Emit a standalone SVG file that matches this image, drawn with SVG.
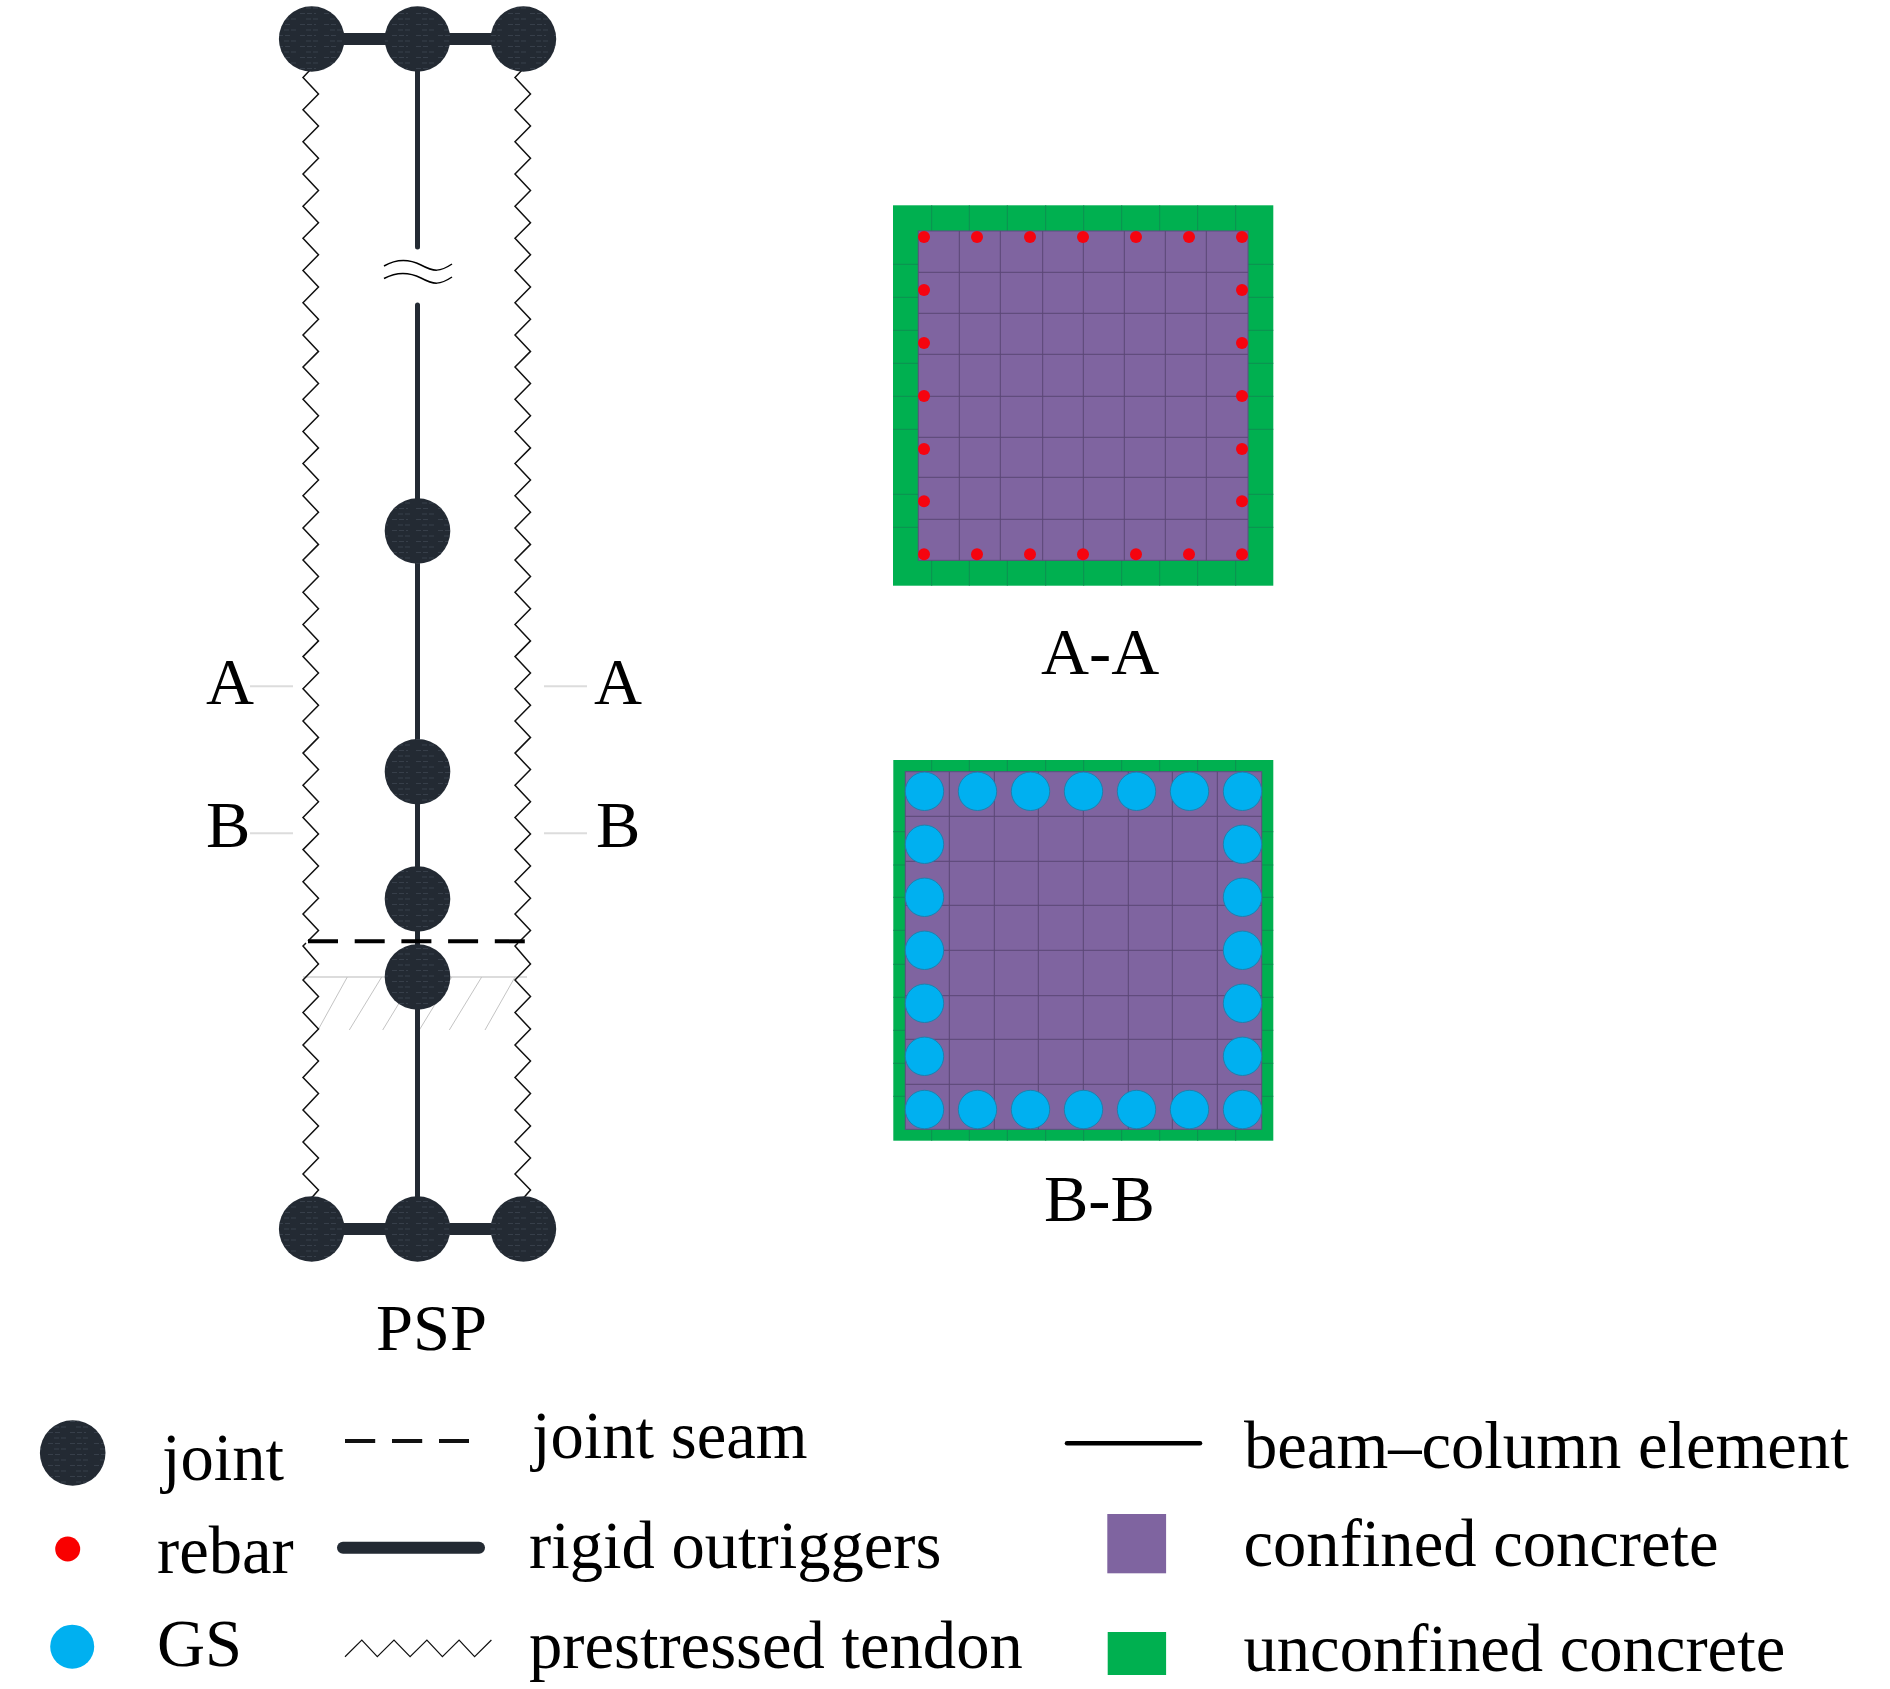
<svg xmlns="http://www.w3.org/2000/svg" xmlns:xlink="http://www.w3.org/1999/xlink" width="1890" height="1689" viewBox="0 0 1890 1689">
<style>
text{font-family:"Liberation Serif","Times New Roman",serif;fill:#000;font-size:66.5px}
.leg{font-size:66.6px}
.joint{fill:url(#jt)}
.outrig{stroke:#232a33;stroke-width:12;fill:none}
.column{stroke:#232a33;stroke-width:5;fill:none;stroke-linecap:round}
.zig{stroke:#111;stroke-width:1.5;fill:none}
.wave{stroke:#000;stroke-width:1.5;fill:none}
.cut{stroke:#dcdcdc;stroke-width:2;fill:none}
.hatch{stroke:#c4c4c4;stroke-width:1;fill:none}
.gg{stroke:#0d8f50;stroke-width:1;fill:none}
.pg{stroke:#5a4675;stroke-width:1;fill:none}
.reb{fill:#f5040f}
.gs{fill:#00b0f0;stroke:#1f80ad;stroke-width:1}
.green{fill:#00b050}
.purple{fill:#7f64a0}
</style>
<defs>
<pattern id="jt" width="46" height="11" patternUnits="userSpaceOnUse">
<rect width="46" height="11" fill="#232a33"/>
<path d="M2 2.5H16M24 2.5H40M8 8H20M30 8H44" stroke="#39424d" stroke-width="0.9" stroke-dasharray="5 2"/>
</pattern>
<polyline id="zigUp" points="311,69 303,77.5 318.5,94 303,109.7 318.5,126 303,141.8 318.5,158.3 303,174 318.5,190.5 303,206.2 318.5,222.7 303,238.3 318.5,254.8 303,270.5 318.5,287 303,302.7 318.5,319.2 303,334.9 318.5,351.4 303,367 318.5,383.5 303,399.2 318.5,415.7 303,431.4 318.5,447.9 303,463.5 318.5,480 303,495.7 318.5,512.2 303,527.9 318.5,544.4 303,560 318.5,576.6 303,592.2 318.5,608.7 303,624.4 318.5,640.9 303,656.6 318.5,673.1 303,688.7 318.5,705.3 303,720.9 318.5,737.4 303,753.1 318.5,769.6 303,785.2 318.5,801.8 303,817.4 318.5,834 303,849.6 318.5,866.1 303,881.8 318.5,898.3 303,913.9 318.5,930.5 308,941"/>
<polyline id="zigLow" points="306,943 303,946 318.5,964 303,980 318.5,996.5 303,1012.5 318.5,1029 303,1045 318.5,1061 303,1077.5 318.5,1093.5 303,1110 318.5,1126 303,1142 318.5,1158 303,1174 318.5,1190 311.5,1198"/>
</defs>

<g id="connectors">
<g id="hatching">
<path class="cut" d="M303 977H527"/>
<path class="hatch" d="M347.3 977L318 1030M381.7 977L349.3 1030M415 977L382.7 1030M451.7 977L419.3 1030M481.7 977L449.3 1030M515 977L485 1030"/>
</g>
<g id="tendons" class="zig">
<use href="#zigUp"/><use href="#zigLow"/>
<use href="#zigUp" transform="translate(212,0)"/><use href="#zigLow" transform="translate(212,0)"/>
</g>
<path id="outrigger-top" class="outrig" d="M311.5 39H523"/>
<path id="outrigger-bottom" class="outrig" d="M311.5 1229H523"/>
<path id="column-upper" class="column" d="M417.5 39V247"/>
<path id="column-lower" class="column" d="M417.5 305V1229"/>
<g id="break-mark" class="wave">
<path d="M384 266C398 258 411 260 421 265C434 272 440 272 452 264"/>
<path d="M384 278.5C398 271 411 273 421 278C434 285 440 285 452 277"/>
</g>
<path id="joint-seam" d="M308 941.3H526" stroke="#000" stroke-width="4" stroke-dasharray="30 16.7" fill="none"/>
<path id="cut-A-left" class="cut" d="M250 686.3H293"/>
<path id="cut-A-right" class="cut" d="M544 686.3H587"/>
<path id="cut-B-left" class="cut" d="M250 833.3H293"/>
<path id="cut-B-right" class="cut" d="M544 833.3H587"/>
</g>

<g id="joint-top-left"><circle class="joint" cx="311.7" cy="39" r="32.8"/></g>
<g id="joint-top-mid"><circle class="joint" cx="417.5" cy="39" r="32.8"/></g>
<g id="joint-top-right"><circle class="joint" cx="523.4" cy="39" r="32.8"/></g>
<g id="joint-1"><circle class="joint" cx="417.5" cy="531" r="32.8"/></g>
<g id="joint-2"><circle class="joint" cx="417.5" cy="771.7" r="32.8"/></g>
<g id="joint-3"><circle class="joint" cx="417.5" cy="899" r="32.8"/></g>
<g id="joint-4"><circle class="joint" cx="417.5" cy="977" r="32.8"/></g>
<g id="joint-bot-left"><circle class="joint" cx="311.7" cy="1229" r="32.8"/></g>
<g id="joint-bot-mid"><circle class="joint" cx="417.5" cy="1229" r="32.8"/></g>
<g id="joint-bot-right"><circle class="joint" cx="523.4" cy="1229" r="32.8"/></g>

<g id="labels-column">
<text x="206" y="704">A</text>
<text x="594" y="704">A</text>
<text x="206" y="847">B</text>
<text x="596" y="847">B</text>
<text x="376" y="1349.5">PSP</text>
</g>

<g id="section-A">
<rect class="green" x="893" y="205.3" width="380.3" height="380.4"/>
<path class="gg" d="M931.7 205.3V231M969.3 205.3V231M1007.3 205.3V231M1045.7 205.3V231M1083.7 205.3V231M1121.7 205.3V231M1159.7 205.3V231M1197.7 205.3V231M1235.7 205.3V231M931.7 560.3V585.7M969.3 560.3V585.7M1007.3 560.3V585.7M1045.7 560.3V585.7M1083.7 560.3V585.7M1121.7 560.3V585.7M1159.7 560.3V585.7M1197.7 560.3V585.7M1235.7 560.3V585.7"/>
<path class="gg" d="M893 264.3H918.3M893 297.3H918.3M893 330.3H918.3M893 363.3H918.3M893 396.3H918.3M893 429.3H918.3M893 494.3H918.3M893 527.3H918.3M1248 264.3H1273.3M1248 297.3H1273.3M1248 330.3H1273.3M1248 363.3H1273.3M1248 396.3H1273.3M1248 429.3H1273.3M1248 494.3H1273.3M1248 527.3H1273.3"/>
<rect class="purple" x="918.3" y="231" width="329.7" height="329.3" stroke="#5f4c80" stroke-width="1"/>
<path class="pg" d="M959.3 231V560.3M1000.3 231V560.3M1042.7 231V560.3M1083.3 231V560.3M1124.3 231V560.3M1165.3 231V560.3M1206.3 231V560.3"/>
<path class="pg" d="M918.3 272.3H1248M918.3 313.3H1248M918.3 354.3H1248M918.3 396.3H1248M918.3 437.3H1248M918.3 477.3H1248M918.3 519.3H1248"/>
<g class="reb">
<circle cx="924" cy="237" r="6"/><circle cx="977" cy="237" r="6"/><circle cx="1030" cy="237" r="6"/><circle cx="1083" cy="237" r="6"/><circle cx="1136" cy="237" r="6"/><circle cx="1189" cy="237" r="6"/><circle cx="1242" cy="237" r="6"/>
<circle cx="924" cy="290" r="6"/><circle cx="1242" cy="290" r="6"/>
<circle cx="924" cy="343" r="6"/><circle cx="1242" cy="343" r="6"/>
<circle cx="924" cy="396" r="6"/><circle cx="1242" cy="396" r="6"/>
<circle cx="924" cy="449" r="6"/><circle cx="1242" cy="449" r="6"/>
<circle cx="924" cy="501.3" r="6"/><circle cx="1242" cy="501.3" r="6"/>
<circle cx="924" cy="554.3" r="6"/><circle cx="977" cy="554.3" r="6"/><circle cx="1030" cy="554.3" r="6"/><circle cx="1083" cy="554.3" r="6"/><circle cx="1136" cy="554.3" r="6"/><circle cx="1189" cy="554.3" r="6"/><circle cx="1242" cy="554.3" r="6"/>
</g>
<text x="1041" y="673.5">A-A</text>
</g>

<g id="section-B">
<rect class="green" x="893.3" y="760" width="380" height="380.7"/>
<path class="gg" d="M931.7 760V771.7M969.3 760V771.7M1007.3 760V771.7M1045.7 760V771.7M1083.7 760V771.7M1121.7 760V771.7M1159.7 760V771.7M1197.7 760V771.7M1235.7 760V771.7M931.7 1129.3V1140.7M969.3 1129.3V1140.7M1007.3 1129.3V1140.7M1045.7 1129.3V1140.7M1083.7 1129.3V1140.7M1121.7 1129.3V1140.7M1159.7 1129.3V1140.7M1197.7 1129.3V1140.7M1235.7 1129.3V1140.7"/>
<path class="gg" d="M893.3 831.7H905.3M893.3 865H905.3M893.3 897.3H905.3M893.3 930.3H905.3M893.3 964.3H905.3M893.3 997.3H905.3M893.3 1030.3H905.3M893.3 1063.3H905.3M893.3 1096.3H905.3M1261.7 831.7H1273.3M1261.7 865H1273.3M1261.7 897.3H1273.3M1261.7 930.3H1273.3M1261.7 964.3H1273.3M1261.7 997.3H1273.3M1261.7 1030.3H1273.3M1261.7 1063.3H1273.3M1261.7 1096.3H1273.3"/>
<rect class="purple" x="905.3" y="771.7" width="356.4" height="357.6" stroke="#5f4c80" stroke-width="1"/>
<path class="pg" d="M949.3 771.7V1129.3M994.3 771.7V1129.3M1038.3 771.7V1129.3M1083.3 771.7V1129.3M1128.3 771.7V1129.3M1172.3 771.7V1129.3M1217.3 771.7V1129.3"/>
<path class="pg" d="M905.3 816.3H1261.7M905.3 861.3H1261.7M905.3 905.3H1261.7M905.3 950.3H1261.7M905.3 995.7H1261.7M905.3 1039.3H1261.7M905.3 1084.3H1261.7"/>
<g class="gs">
<circle cx="924.5" cy="791.3" r="19.2"/><circle cx="977.5" cy="791.3" r="19.2"/><circle cx="1030.5" cy="791.3" r="19.2"/><circle cx="1083.5" cy="791.3" r="19.2"/><circle cx="1136.5" cy="791.3" r="19.2"/><circle cx="1189.5" cy="791.3" r="19.2"/><circle cx="1242.5" cy="791.3" r="19.2"/>
<circle cx="924.5" cy="844.3" r="19.2"/><circle cx="1242.5" cy="844.3" r="19.2"/>
<circle cx="924.5" cy="897.3" r="19.2"/><circle cx="1242.5" cy="897.3" r="19.2"/>
<circle cx="924.5" cy="950.3" r="19.2"/><circle cx="1242.5" cy="950.3" r="19.2"/>
<circle cx="924.5" cy="1003.3" r="19.2"/><circle cx="1242.5" cy="1003.3" r="19.2"/>
<circle cx="924.5" cy="1056.3" r="19.2"/><circle cx="1242.5" cy="1056.3" r="19.2"/>
<circle cx="924.5" cy="1109.5" r="19.2"/><circle cx="977.5" cy="1109.5" r="19.2"/><circle cx="1030.5" cy="1109.5" r="19.2"/><circle cx="1083.5" cy="1109.5" r="19.2"/><circle cx="1136.5" cy="1109.5" r="19.2"/><circle cx="1189.5" cy="1109.5" r="19.2"/><circle cx="1242.5" cy="1109.5" r="19.2"/>
</g>
<text x="1044" y="1221">B-B</text>
</g>

<g id="legend">
<g id="legend-joint"><circle class="joint" cx="72.7" cy="1453" r="32.8"/><text class="leg" x="162" y="1480">joint</text></g>
<g id="legend-rebar"><circle cx="67.7" cy="1549" r="12.5" fill="#f90000"/><text class="leg" x="157" y="1572.7">rebar</text></g>
<g id="legend-gs"><circle cx="72.2" cy="1646.7" r="22" fill="#00b0f0"/><text class="leg" x="157" y="1666">GS</text></g>
<g id="legend-seam"><path d="M345 1441H469" stroke="#111" stroke-width="4" stroke-dasharray="30.2 16.8" fill="none"/><text class="leg" x="532" y="1457.5">joint seam</text></g>
<g id="legend-outrigger"><path d="M343 1547.7H479" stroke="#232a33" stroke-width="12" stroke-linecap="round" fill="none"/><text class="leg" x="529" y="1568">rigid outriggers</text></g>
<g id="legend-tendon"><polyline points="345,1656.7 361.8,1640 377.3,1656.7 394,1640 410.1,1656.7 426.9,1640 442.4,1656.7 459.1,1640 474.6,1656.7 491.4,1640" fill="none" stroke="#111" stroke-width="1.2"/><text class="leg" x="529" y="1667.7">prestressed tendon</text></g>
<g id="legend-beam"><path d="M1067 1443.3H1200" stroke="#000" stroke-width="4.5" stroke-linecap="round" fill="none"/><text class="leg" x="1244" y="1468">beam–column element</text></g>
<g id="legend-confined"><rect class="purple" x="1107.3" y="1514" width="58.8" height="59.3"/><text class="leg" x="1243.5" y="1566">confined concrete</text></g>
<g id="legend-unconfined"><rect class="green" x="1107.7" y="1632" width="58.4" height="43"/><text class="leg" x="1243.5" y="1671">unconfined concrete</text></g>
</g>
</svg>
